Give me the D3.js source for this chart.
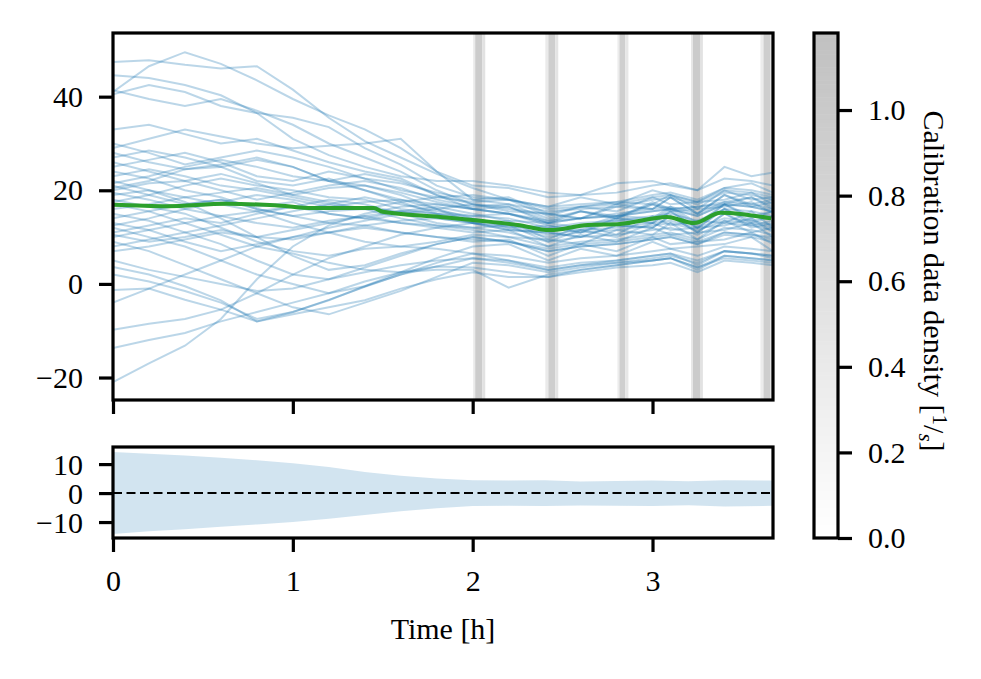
<!DOCTYPE html>
<html lang="en">
  <head>
    <meta charset="UTF-8" />
    <title>Calibration ensemble</title>
    <script src="https://d3js.org/d3.v7.min.js"></script>
    <style>
      body {
        margin: 0;
        background: white;
      }
      text {
        font-family: "Liberation Serif", "DejaVu Serif", serif;
        font-size: 30px;
        fill: black;
      }
    </style>
  </head>
  <body>
    <script>
      // knot times (h) for every ensemble member
      const knotTimes = [0, 0.2, 0.4, 0.6, 0.8, 1.0, 1.2, 1.4, 1.6, 1.8, 2.0,
        2.2, 2.42, 2.6, 2.8, 3.0, 3.1, 3.25, 3.4, 3.55, 3.67];

      // ensemble members
      const members = [
        [47.4, 47.8, 46.8, 46, 46.5, 41.5, 35.5, 30.5, 27, 23.5, 20.5, 18, 16.5, 18.5, 17, 20, 19, 17.5, 20.5, 21.5, 19.5],
        [41, 46.5, 49.5, 47, 43.5, 39.5, 36, 33, 29, 24, 21, 20.5, 18.5, 19, 19.5, 21, 21.5, 20, 22.5, 22, 21],
        [44.6, 44, 42.5, 40.3, 36.5, 31, 27.5, 25, 23, 22, 22, 21, 19.5, 19, 21.5, 22, 21, 20, 25, 23, 23.8],
        [41.4, 39.5, 38, 39.5, 37, 34, 30, 27, 24, 20, 17, 16.5, 13.5, 15.5, 14.5, 17, 16, 16.5, 17.5, 18.5, 16.5],
        [33, 34, 32, 30, 31, 28.5, 26, 24, 22.5, 19, 16, 15, 13, 14, 14.5, 15.5, 16, 14.5, 17, 16.5, 15.5],
        [29, 31, 33, 31.5, 30, 29, 29.5, 30, 31, 24, 18, 18.5, 15, 16.5, 17.5, 17, 19, 16, 20, 18, 18.5],
        [28, 26, 24.5, 25, 22, 21, 22.5, 20, 18, 16, 14, 12, 12.5, 11, 14, 13, 15.5, 12, 16, 13, 14.5],
        [27, 28.5, 27, 25, 26.5, 25, 22, 21, 19.5, 17.5, 16, 15, 13.5, 14, 15, 16, 16.5, 15, 17.5, 17, 16],
        [26, 24, 22, 23.5, 21.5, 19, 20.5, 21, 19, 16, 13, 13.5, 9.5, 12.5, 10.5, 14.5, 12.5, 13.5, 13, 15.5, 12],
        [25, 26.5, 28, 26, 23, 22, 24, 22.5, 21.5, 19.5, 18, 17, 15.5, 16, 16.5, 18, 18.5, 17, 19.5, 19, 18],
        [24, 22.5, 20, 18.5, 16, 14.5, 13, 12.5, 11, 10, 9, 9.5, 6, 8.5, 7, 10, 8.5, 9, 9.5, 11, 8.5],
        [23, 24.5, 23, 21, 20, 18.5, 17, 18.5, 17, 15.5, 14.5, 15, 12.5, 11.5, 14, 13.5, 16, 12.5, 17, 14, 15.5],
        [22, 20, 17.5, 14, 10, 6, 3, 4, 6.5, 8.5, 10, 9, 7, 8, 8.5, 9.5, 10, 8.5, 11, 10.5, 9.5],
        [21.5, 23, 25, 26.5, 25, 23, 22, 23.5, 22, 19, 17, 16, 15, 14, 17, 16, 18.5, 15, 19, 17, 18],
        [21, 19, 17, 18, 16.5, 17.5, 15, 14, 13, 12.5, 12, 11, 9, 10, 10.5, 11.5, 12, 10.5, 13, 12.5, 11.5],
        [20, 21.5, 22, 20, 18, 19.5, 21, 22, 20.5, 18, 16.5, 17, 14, 15.5, 14, 17.5, 16, 16.5, 17, 18.5, 16],
        [19.5, 18, 16, 14.5, 15.5, 13, 11, 9, 8, 7.5, 6.5, 5, 3.5, 4.5, 5, 6, 6.5, 5, 7, 6.5, 5.5],
        [19, 20, 18.5, 19.5, 20.5, 19, 17.5, 16, 15.5, 14, 13, 11.5, 11, 10, 12.5, 12, 14.5, 11, 15, 12.5, 13.5],
        [18, 16.5, 15, 12, 9, 7, 6, 7.5, 8, 9, 10.5, 10, 8, 9, 9.5, 10.5, 11, 9.5, 12, 11.5, 10.5],
        [17.5, 19, 21, 22.5, 21, 20, 18.5, 18, 16, 15, 14.5, 14, 12, 13, 13.5, 14.5, 15, 13.5, 16, 15.5, 14.5],
        [17, 15.5, 13, 10.5, 8, 6.5, 4.5, 3, 2.5, 3, 3, -0.8, 2, 3, 4, 5, 5.5, 3, 6, 5.5, 5],
        [16, 17, 18.5, 17, 15.5, 16.5, 18, 17, 15, 13, 12, 12.5, 9, 11.5, 10, 13, 11.5, 12, 12.5, 14, 11],
        [15, 13.5, 11, 8.5, 5, 2, 1, 2.5, 4, 5, 5.5, 4.5, 3, 4, 4.5, 5.5, 6, 4.5, 7, 6.5, 6],
        [14, 15.5, 17, 18, 16, 14.5, 15.5, 16, 14, 12.5, 11.5, 10, 9.5, 8.5, 11.5, 10.5, 13, 9.5, 13.5, 11, 12],
        [13, 11.5, 9, 7, 8.5, 10, 11, 12.5, 13.5, 14, 13, 12, 10, 11, 11.5, 12.5, 13, 11.5, 13.5, 13, 12],
        [12.5, 14, 16, 17.5, 19, 18, 16.5, 17.5, 18, 17, 16, 16.5, 13, 15.5, 14, 17, 15.5, 16, 16.5, 17.5, 15],
        [12, 10, 8, 5, 2, 0, -2, -0.5, 2, 4.5, 6.5, 6, 4.5, 5.5, 6, 7, 7.5, 6, 8, 7.5, 7],
        [11, 12.5, 14, 13, 15, 16.5, 15, 14, 15.5, 16.5, 15, 13.5, 13, 12, 14.5, 14, 16.5, 13, 17, 14.5, 15.5],
        [10.5, 9, 10, 11.5, 10, 9.5, 11, 12, 11, 10, 9.5, 9, 7, 8, 8.5, 9.5, 10, 8.5, 10.5, 10, 9],
        [10, 11.5, 13, 14.5, 13, 12, 13.5, 14.5, 13, 12, 11, 11.5, 8, 10.5, 9, 12, 10.5, 11, 11.5, 13, 10],
        [9, 7, 4, 1, -2, -5, -6.5, -4, -1.5, 1.5, 4.5, 4, 2.5, 3.5, 4.5, 5, 5.5, 3.5, 5.5, 5, 4.5],
        [8, 9.5, 11, 12.5, 14, 15.5, 17, 16, 17.5, 18.5, 19, 18, 16.5, 17, 17.5, 19, 19.5, 18, 20.5, 20, 19],
        [7, 8, 9.5, 11, 10, 11.5, 13, 14.5, 15.5, 15, 14, 12.5, 12, 11, 13.5, 13, 15.5, 12, 16, 13.5, 14.5],
        [5, 3, 1.5, 0, -1.5, -1, 1, 3.5, 6, 8.5, 10, 9, 7.5, 8.5, 9, 10, 10.5, 9, 11, 10.5, 10],
        [3.6, 2, -0.5, -3.5, -8, -6.5, -5, -3.5, -1, 1, 2.5, 1.5, 1.5, 3, 4, 5, 5.5, 3.5, 6, 5.5, 5],
        [2, 0.5, -1.5, -4, -7.5, -6, -3.5, -0.5, 2.5, 5.5, 8, 8.5, 5, 7.5, 6, 9, 7.5, 8, 8.5, 10, 7],
        [-1.3, -1, -3.4, -5.5, -8, -6, -3.4, -0.6, 2, 3.7, 5.5, 5, 3, 4, 5, 6, 6.5, 4, 7, 6.5, 6],
        [-4, -1, 2, 5, 8, 10, 12, 13.5, 15, 16, 17, 15.5, 15, 14, 16.5, 16, 18.5, 15, 19, 16.5, 17.5],
        [-9.8, -8.5, -7.5, -5.5, -2, 2, 5.5, 8, 10.5, 12, 13, 12.5, 10.5, 11.5, 12, 13, 13.5, 12, 14, 13.5, 12.5],
        [-13.7, -12, -10.5, -8, -6, -4, -2, 0.5, 2.5, 3.7, 3.5, 2.5, 1.5, 2.5, 3.5, 4, 4.5, 2.5, 5, 4.5, 4],
        [-21, -17, -13.2, -7.5, 1, 8, 12.5, 15, 16.5, 17, 16, 15, 13, 14, 14.5, 15.5, 16, 14.5, 17, 16.5, 15.5],
        [30, 28, 25.5, 27, 28.5, 27, 25, 22.5, 20, 18.5, 17.5, 18, 14.5, 16.5, 15.5, 18.5, 17, 17.5, 18, 19.5, 17],
        [40.5, 42.5, 41, 38, 36.5, 35.5, 33.5, 29, 25.5, 21, 18.5, 18, 16, 16.5, 17, 18.5, 19, 17.5, 20, 19.5, 18.5],
        [20.5, 22, 24.5, 25.5, 27, 25, 22, 20, 17.5, 15, 13, 11.5, 11, 10, 12.5, 12, 14.5, 11, 15, 12, 13]
      ];

      // ensemble mean (green)
      const meanTimes = [0, 0.3, 0.63, 0.9, 1.11, 1.45, 1.5, 1.82, 2.04, 2.25, 2.43, 2.64, 2.82, 3.08, 3.23, 3.38, 3.5, 3.66];
      const meanValues = [16.9, 16.6, 17.1, 16.8, 16.2, 16.2, 15.4, 14.3, 13.5, 12.6, 11.5, 12.6, 12.8, 14.3, 13.0, 15.2, 14.9, 14.0];

      // spread around the mean (lower panel)
      const bandTimes = [0, 0.2, 0.4, 0.6, 0.8, 1.0, 1.2, 1.4, 1.6, 1.8, 2.0, 2.2, 2.4, 2.6, 2.8, 3.0, 3.2, 3.4, 3.67];
      const bandUpper = [14.2, 13.6, 13.0, 12.2, 11.3, 10.3, 9.0, 7.3, 6.0, 5.0, 4.4, 4.3, 4.4, 4.0, 4.2, 4.3, 4.1, 4.4, 4.3];
      const bandLower = [-14.1, -13.2, -12.5, -11.6, -10.8, -10.0, -8.9, -7.6, -6.3, -5.2, -4.5, -4.4, -4.5, -4.3, -4.4, -4.5, -4.2, -4.6, -4.4];

      // calibration data density bins (h, 1/s)
      const calibStart = [2.003, 2.014, 2.053, 2.404, 2.421, 2.460, 2.805, 2.816, 2.849, 3.214, 3.225, 3.264, 3.600, 3.617, 3.656];
      const calibEnd = [2.014, 2.053, 2.070, 2.421, 2.460, 2.476, 2.816, 2.849, 2.866, 3.225, 3.264, 3.280, 3.617, 3.656, 3.670];
      const calibDensity = [0.4, 0.95, 0.55, 0.4, 0.92, 0.5, 0.35, 0.9, 0.45, 0.45, 0.98, 0.55, 0.35, 0.92, 0.55];

      const xTicks = [0, 1, 2, 3];
      const yTopTicks = [-20, 0, 20, 40];
      const yBotTicks = [-10, 0, 10];
      const cbarTicks = [0, 0.2, 0.4, 0.6, 0.8, 1.0];

      const width = 981;
      const height = 679;
      const left = 113, right = 773;
      const topY0 = 33, topY1 = 400;
      const botY0 = 447, botY1 = 538;
      const cbX0 = 814, cbX1 = 838;
      const tick = 14;

      const svg = d3.select("body").append("svg")
        .attr("width", width)
        .attr("height", height);

      const x = d3.scaleLinear().domain([0, 3.67]).range([left, right]);
      const yTop = d3.scaleLinear().domain([-24.8, 53.6]).range([topY1, topY0]);
      const yBot = d3.scaleLinear().domain([-15.5, 15.9]).range([botY1, botY0]);
      const cbar = d3.scaleLinear().domain([0, 1.18]).range([botY1, topY0]);
      const grey = d3.scaleLinear().domain([0, 1.18]).range(["#ffffff", "#c0c0c0"]);

      svg.append("clipPath").attr("id", "clipTop")
        .append("rect")
        .attr("x", left).attr("y", topY0)
        .attr("width", right - left).attr("height", topY1 - topY0);

      const gTop = svg.append("g").attr("clip-path", "url(#clipTop)");

      // calibration strips
      gTop.selectAll("rect.calib")
        .data(calibStart)
        .enter()
        .append("rect")
        .attr("class", "calib")
        .attr("x", (d) => x(d))
        .attr("width", (d, i) => x(calibEnd[i]) - x(d))
        .attr("y", topY0)
        .attr("height", topY1 - topY0)
        .attr("fill", (d, i) => grey(calibDensity[i]));

      const line = d3.line()
        .x((d, i) => x(knotTimes[i]))
        .y((d) => yTop(d));

      gTop.selectAll("path.member")
        .data(members)
        .enter()
        .append("path")
        .attr("class", "member")
        .attr("d", line)
        .attr("fill", "none")
        .attr("stroke", "#1f77b4")
        .attr("stroke-opacity", 0.3)
        .attr("stroke-width", 2);

      const meanLine = d3.line()
        .x((d, i) => x(meanTimes[i]))
        .y((d) => yTop(d))
        .curve(d3.curveMonotoneX);

      gTop.append("path")
        .attr("d", meanLine(meanValues))
        .attr("fill", "none")
        .attr("stroke", "#2ca02c")
        .attr("stroke-width", 4);

      // lower panel
      const band = d3.area()
        .x((d, i) => x(bandTimes[i]))
        .y0((d, i) => yBot(bandLower[i]))
        .y1((d) => yBot(d));

      svg.append("path")
        .attr("d", band(bandUpper))
        .attr("fill", "#1f77b4")
        .attr("fill-opacity", 0.2);

      svg.append("line")
        .attr("x1", left).attr("x2", right)
        .attr("y1", yBot(0)).attr("y2", yBot(0))
        .attr("stroke", "black")
        .attr("stroke-width", 2)
        .attr("stroke-dasharray", "9,4.5");

      // frames
      function frame(y0, y1) {
        svg.append("rect")
          .attr("x", left).attr("y", y0)
          .attr("width", right - left).attr("height", y1 - y0)
          .attr("fill", "none")
          .attr("stroke", "black")
          .attr("stroke-width", 3.2);
      }
      frame(topY0, topY1);
      frame(botY0, botY1);

      // axes
      function styleAxis(g) {
        g.select(".domain").remove();
        g.selectAll(".tick line").attr("stroke", "black").attr("stroke-width", 3.2);
        g.selectAll(".tick text")
          .style("font-family", "'Liberation Serif', serif")
          .style("font-size", "30px")
          .attr("fill", "black");
      }
      const fmtMinus = (d) => (d < 0 ? "\u2212" + Math.abs(d) : String(d));

      svg.append("g")
        .attr("transform", `translate(0,${topY1})`)
        .call(d3.axisBottom(x).tickValues(xTicks).tickSize(tick).tickFormat(""))
        .call(styleAxis);

      svg.append("g")
        .attr("transform", `translate(0,${botY1})`)
        .call(d3.axisBottom(x).tickValues(xTicks).tickSize(tick).tickPadding(18).tickFormat(d3.format("d")))
        .call(styleAxis);

      svg.append("g")
        .attr("transform", `translate(${left},0)`)
        .call(d3.axisLeft(yTop).tickValues(yTopTicks).tickSize(tick).tickPadding(16).tickFormat(fmtMinus))
        .call(styleAxis);

      const botAxis = svg.append("g")
        .attr("transform", `translate(${left},0)`)
        .call(d3.axisLeft(yBot).tickValues(yBotTicks).tickSize(tick).tickPadding(16).tickFormat(fmtMinus))
        .call(styleAxis);
      botAxis.selectAll(".tick text").attr("dy", null)
        .attr("dominant-baseline", "central");

      svg.append("text")
        .attr("x", (left + right) / 2)
        .attr("y", 639)
        .attr("text-anchor", "middle")
        .text("Time [h]");

      // colour bar
      const steps = d3.range(0, 1.18, 0.01);
      svg.selectAll("rect.cb")
        .data(steps)
        .enter()
        .append("rect")
        .attr("class", "cb")
        .attr("x", cbX0)
        .attr("width", cbX1 - cbX0)
        .attr("y", (d) => cbar(Math.min(d + 0.01, 1.18)))
        .attr("height", (d) => cbar(d) - cbar(Math.min(d + 0.01, 1.18)) + 0.5)
        .attr("fill", (d) => grey(d));

      svg.append("rect")
        .attr("x", cbX0).attr("y", topY0)
        .attr("width", cbX1 - cbX0).attr("height", botY1 - topY0)
        .attr("fill", "none")
        .attr("stroke", "black")
        .attr("stroke-width", 3.2);

      svg.append("g")
        .attr("transform", `translate(${cbX1},0)`)
        .call(d3.axisRight(cbar).tickValues(cbarTicks).tickSize(tick).tickPadding(16).tickFormat(d3.format(".1f")))
        .call(styleAxis);

      const cbLabel = svg.append("text")
        .attr("transform", "translate(924,281) rotate(90)")
        .attr("text-anchor", "middle");
      cbLabel.append("tspan").text("Calibration data density [");
      cbLabel.append("tspan").attr("dy", -9).style("font-size", "21px").text("1");
      cbLabel.append("tspan").attr("dy", 9).text("/");
      cbLabel.append("tspan").attr("dy", 5).style("font-size", "21px").style("font-style", "italic").text("s");
      cbLabel.append("tspan").attr("dy", -5).text("]");
    </script>
  </body>
</html>
